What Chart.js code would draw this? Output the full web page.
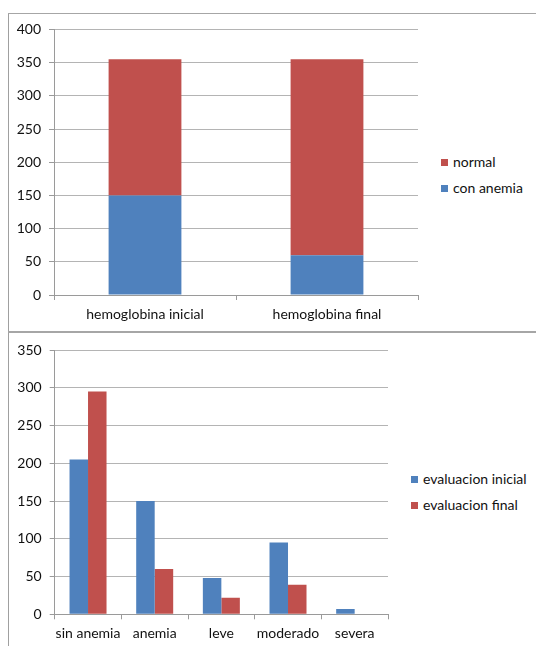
<!DOCTYPE html>
<html lang="es">
<head>
    <meta charset="UTF-8">
    <title>Hemoglobina y anemia</title>
    <style>
        body {
            margin: 0;
            padding: 0;
            background: #fff;
            font-family: Lato, "Open Sans", sans-serif;
        }
        .page {
            position: relative;
            width: 536px;
            height: 646px;
            overflow: hidden;
        }
        canvas {
            position: absolute;
            left: 0;
        }
        .frame-left {
            position: absolute;
            left: 8px;
            top: 13px;
            width: 1px;
            height: 640px;
            background: #a0a0a0;
        }
        .frame-line {
            position: absolute;
            left: 8px;
            width: 530px;
            background: #a6a6a6;
        }
        .legend {
            position: absolute;
            font-size: 14px;
            color: #111;
        }
        .legend div {
            height: 26px;
            line-height: 26px;
            white-space: nowrap;
        }
        .legend span {
            display: inline-block;
            width: 7px;
            height: 7px;
            margin-right: 5px;
            vertical-align: 1px;
        }
    </style>
    <script src="https://cdn.jsdelivr.net/npm/chart.js"></script>
</head>
<body>
<div class="page">
    <canvas id="topChart" width="430" height="330" style="top:0"></canvas>
    <canvas id="bottomChart" width="400" height="316" style="top:330px"></canvas>
    <div class="frame-left"></div>
    <div class="frame-line" style="top:13px;height:1px"></div>
    <div class="frame-line" style="top:331px;height:2px"></div>
    <div class="legend" id="topLegend" style="left:441px;top:149px"></div>
    <div class="legend" id="bottomLegend" style="left:411px;top:466px"></div>
</div>

<script>
    // chart 1: hemoglobina (stacked)
    const hbCategories = ['hemoglobina inicial', 'hemoglobina final'];
    const conAnemia = [150, 60];
    const normal = [205, 295];
    const hbTicks = [0, 50, 100, 150, 200, 250, 300, 350, 400];

    // chart 2: evaluacion
    const evalCategories = ['sin anemia', 'anemia', 'leve', 'moderado', 'severa'];
    const evaluacionInicial = [205, 150, 48, 95, 7];
    const evaluacionFinal = [295, 60, 22, 39, 0];
    const evalTicks = [0, 50, 100, 150, 200, 250, 300, 350];

    const BLUE = '#4f81bd';
    const RED = '#c0504d';
    const GRID = '#b4b4b4';
    const AXIS = '#9a9a9a';
    const TEXT = '#111';
    const FONT = { family: 'Lato', size: 14 };

    Chart.defaults.font.family = 'Lato';
    Chart.defaults.color = TEXT;

    function yScale(ticks, width) {
        return {
            min: ticks[0],
            max: ticks[ticks.length - 1],
            afterBuildTicks: s => { s.ticks = ticks.map(v => ({ value: v })); },
            afterFit: s => { s.width = width; },
            grid: { color: GRID, tickLength: 5, tickColor: AXIS },
            border: { color: AXIS },
            ticks: { font: FONT, color: TEXT, padding: 8 }
        };
    }

    function xScale(height, stacked) {
        return {
            stacked: stacked,
            afterFit: s => { s.height = height; },
            grid: { drawOnChartArea: false, tickLength: 5, color: AXIS },
            border: { color: AXIS },
            ticks: { font: FONT, color: TEXT, padding: 6, maxRotation: 0, autoSkip: false }
        };
    }

    const topSets = [
        { label: 'con anemia', data: conAnemia, backgroundColor: BLUE },
        { label: 'normal', data: normal, backgroundColor: RED }
    ];
    const topY = yScale(hbTicks, 54);
    topY.stacked = true;

    new Chart(document.getElementById('topChart'), {
        type: 'bar',
        data: { labels: hbCategories, datasets: topSets },
        options: {
            responsive: false,
            animation: false,
            devicePixelRatio: 1,
            layout: { padding: { top: 29.5, right: 12, left: 0, bottom: 0 } },
            plugins: { legend: { display: false }, tooltip: { enabled: false } },
            datasets: { bar: { categoryPercentage: 0.4, barPercentage: 1 } },
            scales: { x: xScale(35, true), y: topY }
        }
    });

    const bottomSets = [
        { label: 'evaluacion inicial', data: evaluacionInicial, backgroundColor: BLUE },
        { label: 'evaluacion final', data: evaluacionFinal, backgroundColor: RED }
    ];

    new Chart(document.getElementById('bottomChart'), {
        type: 'bar',
        data: { labels: evalCategories, datasets: bottomSets },
        options: {
            responsive: false,
            animation: false,
            devicePixelRatio: 1,
            layout: { padding: { top: 20, right: 12, left: 0, bottom: 0 } },
            plugins: { legend: { display: false }, tooltip: { enabled: false } },
            datasets: { bar: { categoryPercentage: 0.555, barPercentage: 1 } },
            scales: { x: xScale(31.7, false), y: yScale(evalTicks, 54.7) }
        }
    });

    // legends (top one lists the stack top first, like the original)
    function buildLegend(id, sets) {
        const box = document.getElementById(id);
        sets.forEach(ds => {
            const row = document.createElement('div');
            const sw = document.createElement('span');
            sw.style.background = ds.backgroundColor;
            row.appendChild(sw);
            row.appendChild(document.createTextNode(ds.label));
            box.appendChild(row);
        });
    }
    buildLegend('topLegend', topSets.slice().reverse());
    buildLegend('bottomLegend', bottomSets);
</script>
</body>
</html>
